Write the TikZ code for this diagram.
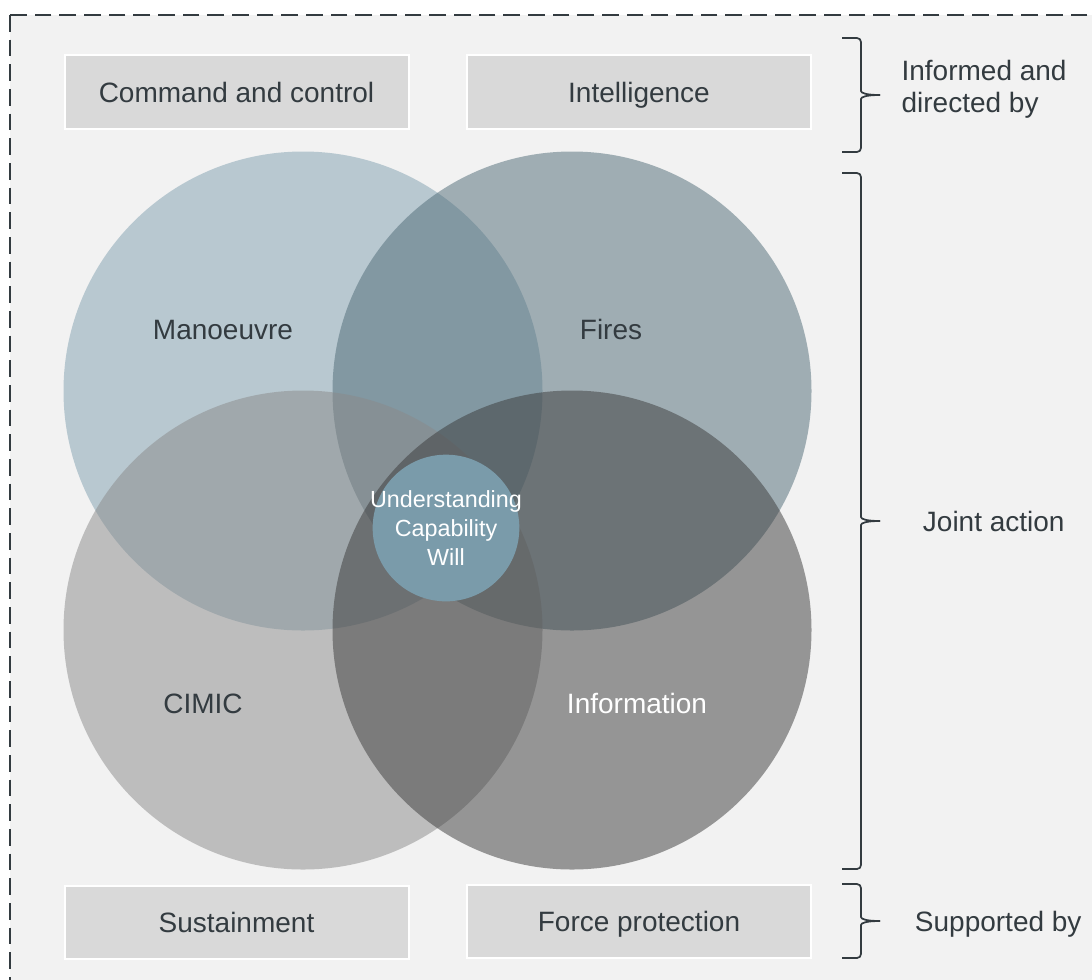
\documentclass[tikz,border=0pt]{standalone}
\usepackage{fontspec}
\setmainfont{Liberation Sans}
\usetikzlibrary{positioning}

\definecolor{panel}{HTML}{F2F2F2}
\definecolor{boxgray}{HTML}{D9D9D9}
\definecolor{ink}{HTML}{333B40}
\definecolor{manblue}{RGB}{128,160,176}
\definecolor{fireblue}{RGB}{78,106,118}
\definecolor{cimicgray}{RGB}{138,138,138}
\definecolor{infogray}{RGB}{58,58,58}
\definecolor{corefill}{RGB}{122,155,170}

\tikzset{
    lbl/.style={text=ink, inner sep=0pt, text height=15.3pt, text depth=0pt, font=\fontsize{21}{24}\selectfont},
    bar/.style={lbl, draw=white, line width=1.5pt, fill=boxgray, minimum width=258pt, minimum height=55pt},
    lobe/.style={fill opacity=0.5},
    bracket/.style={draw=ink, line width=1.3pt, rounded corners=3pt},
}

\begin{document}
\begin{tikzpicture}[x=0.75pt,y=0.75pt,yscale=-1,xscale=1]
        \useasboundingbox (0,0) rectangle (1092,979);
        \clip (0,0) rectangle (1092,979);
        \draw [fill=panel, draw=ink, line width=1.8pt, dash pattern=on 12.5pt off 6pt] (10,15) rectangle (1120,1010);

        % the four lobes
        \foreach \cx/\cy/\col in {303/391/manblue,572/391/fireblue,303/630/cimicgray,572/630/infogray}{
            \fill [lobe, \col] (\cx,\cy) circle [radius=239.5];
        }
        \node [circle, fill=corefill, minimum size=110pt, inner sep=0pt] (core) at (446,528) {};
        \node [text=white, inner sep=0pt, align=center, font=\fontsize{17.5}{21.75}\selectfont] (coretext) at (core) {Understanding\\Capability\\Will};

        \node [lbl] (manoeuvre) at (223,329) {Manoeuvre};
        \node [lbl] (fires) at (611,329) {Fires};
        \node [lbl] (cimic) at (203,703) {CIMIC};
        \node [lbl, text=white] (information) at (637,703) {Information};

        % boxes
        \node [bar] (c2) at (236.5,92) {Command and control};
        \node [bar] (intel) at (639,92) {Intelligence};
        \node [bar] (sustain) at (236.5,922.5) {Sustainment};
        \node [bar] (forcepro) at (639,921.5) {Force protection};

        % braces
        \foreach \t/\b/\m/\n in {38/152/95/tipa,173/869/521/tipb,884/958/921/tipc}{
            \draw [bracket] (842,\t) -- (861,\t) -- (861,\m-8) .. controls (861,\m-2) and (866,\m) .. (880,\m);
            \draw [bracket] (842,\b) -- (861,\b) -- (861,\m+8) .. controls (861,\m+2) and (866,\m) .. (880,\m);
            \coordinate (\n) at (880,\m);
        }
        \node [text=ink, inner sep=0pt, align=left, font=\fontsize{21}{24}\selectfont, right=16pt of tipa, yshift=4pt] (informed) {Informed and\\directed by};
        \node [lbl, right=32pt of tipb] (joint) {Joint action};
        \node [lbl, right=26pt of tipc] (supported) {Supported by};
    \end{tikzpicture}
\end{document}
